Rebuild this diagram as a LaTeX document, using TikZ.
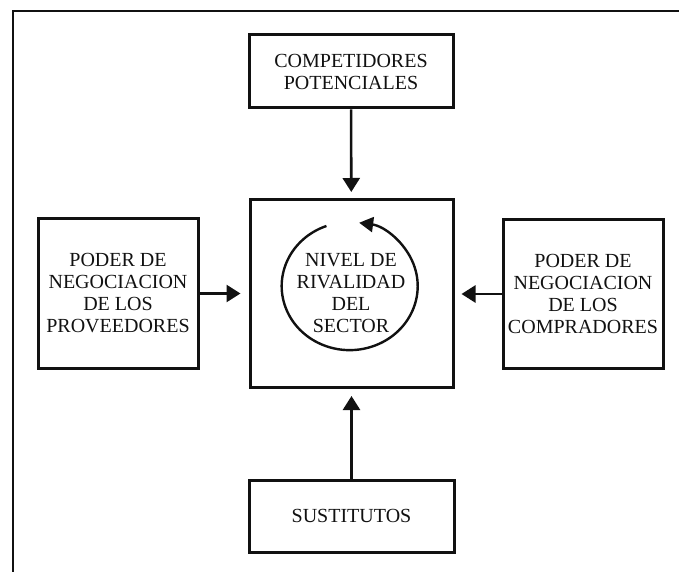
\documentclass[tikz,border=0pt]{standalone}
\usepackage{fontspec}
\setmainfont{Liberation Serif}
\usepackage{tikz}
\usetikzlibrary{arrows.meta, positioning}
\definecolor{ink}{HTML}{111111}

\begin{document}
\begin{tikzpicture}[
  x=1pt, y=1pt,
  every node/.style={font=\fontsize{20}{22}\selectfont, color=ink},
  fbox/.style={
    rectangle, draw=ink, line width=3pt, align=center, inner sep=0pt
  },
  fuerza/.style={line width=2.6pt, draw=ink, -{Triangle[length=14pt, width=17pt]}}
]
\useasboundingbox (0,0) rectangle (679,571);

% outer frame
\draw[line width=2.2pt, color=ink] (13,-20) |- (700,560);

% boxes
\node[fbox, minimum width=204pt, minimum height=73pt] (comp) at (351,499.5) {COMPETIDORES\\POTENCIALES};
\node[fbox, minimum width=203pt, minimum height=188pt] (rival) at (351.5,277.5) {};
\node[fbox, minimum width=205pt, minimum height=72pt] (sust) at (351.5,55) {SUSTITUTOS};
\node[fbox, minimum width=160pt, minimum height=149pt] (prov) at (118,277.5) {PODER DE\\NEGOCIACION\\DE LOS\\PROVEEDORES};
\node[fbox, minimum width=160pt, minimum height=148pt] (compr) at (583,277) {PODER DE\\NEGOCIACION\\DE LOS\\COMPRADORES};

% rivalry cycle
\coordinate (ciclo) at (349,283);
\node[align=center] (nivel) at (351,278) {NIVEL DE\\RIVALIDAD\\DEL\\SECTOR};
\draw[line width=2.4pt, color=ink, -{Triangle[length=14pt, width=15pt]}]
  ([shift={(110:66)}]ciclo) arc[start angle=110, end angle=442, x radius=68, y radius=64];

% arrows
\draw[fuerza, shorten >=6pt] (comp) -- (rival);
\draw[fuerza, shorten >=7pt] (sust) -- (rival);
\draw[fuerza, shorten >=8pt] (prov) -- (rival);
\draw[fuerza, shorten >=7pt] (compr) -- (rival.east |- compr);
\end{tikzpicture}
\end{document}
